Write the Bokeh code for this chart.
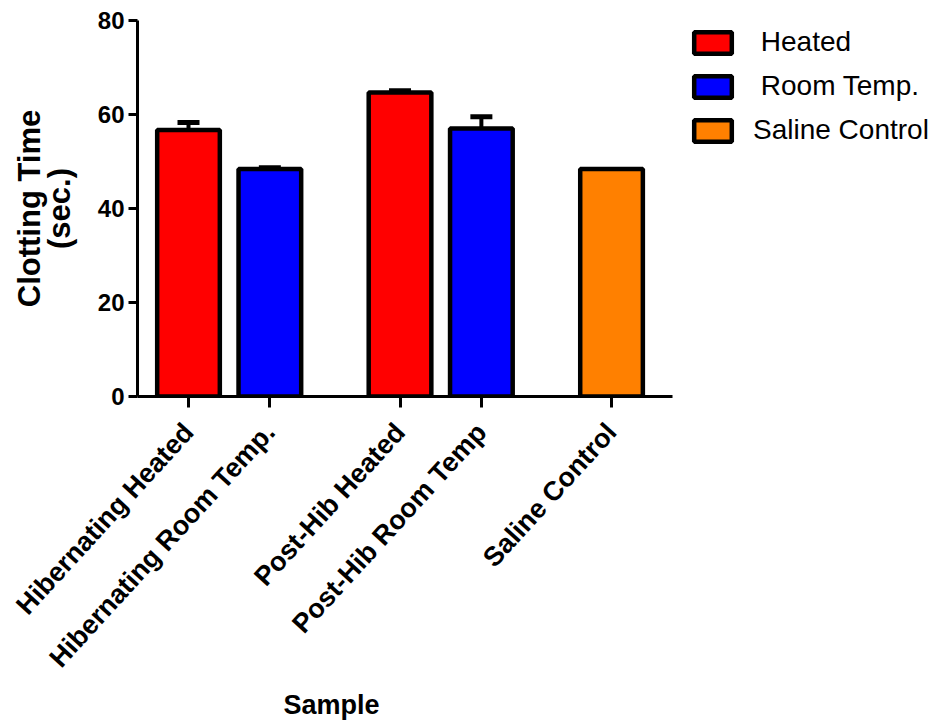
import math
from bokeh.plotting import figure
from bokeh.models import (ColumnDataSource, Whisker, TeeHead, Legend, LegendItem,
                          FixedTicker, Range1d, Title)
from bokeh.embed import file_html
from bokeh.resources import INLINE

# ---- data ----
samples = ["Hibernating Heated", "Hibernating Room Temp.", "Post-Hib Heated",
           "Post-Hib Room Temp", "Saline Control"]
groups = [0, 0, 1, 1, 2]
treatment = ["Heated", "Room Temp.", "Heated", "Room Temp.", "Saline Control"]
means = [56.7, 48.4, 64.7, 57.0, 48.4]
errors = [1.6, 0.25, 0.35, 2.5, 0.0]
y_ticks = [0, 20, 40, 60, 80]
legend_names = ["Heated", "Room Temp.", "Saline Control"]
legend_texts = [" Heated", " Room Temp.", "Saline Control"]
palette = {"Heated": "#FF0000", "Room Temp.": "#0000FF", "Saline Control": "#FF8000"}

# ---- positions (gap between groups) ----
positions = []
xpos = 1.0
for i, g in enumerate(groups):
    if i > 0:
        xpos += 1.0 + (0.6 if g != groups[i - 1] else 0.0)
    positions.append(round(xpos, 2))

FONT = "Liberation Sans"

p = figure(width=941, height=721, output_backend="svg", toolbar_location=None,
           x_range=Range1d(0.373, 10.256), y_range=Range1d(0, 80),
           min_border_left=137, min_border_right=0, min_border_top=20,
           min_border_bottom=322)
p.outline_line_color = None
p.xgrid.visible = False
p.ygrid.visible = False
p.background_fill_color = "white"

renderers = {}
for name in legend_names:
    idx = [i for i, t in enumerate(treatment) if t == name]
    src = ColumnDataSource(dict(x=[positions[i] for i in idx], top=[means[i] for i in idx]))
    r = p.vbar(x="x", top="top", bottom=0, width=0.77, source=src,
               fill_color=palette[name], line_color="black", line_width=4.5)
    renderers[name] = r

eidx = [i for i in range(len(means)) if errors[i] > 0]
esrc = ColumnDataSource(dict(
    x=[positions[i] for i in eidx],
    upper=[means[i] + errors[i] for i in eidx],
    lower=[means[i] - errors[i] for i in eidx]))
wh = Whisker(base="x", upper="upper", lower="lower", source=esrc,
             line_width=4, line_color="black",
             upper_head=TeeHead(size=22, line_width=5, line_color="black"),
             lower_head=TeeHead(size=22, line_width=5, line_color="black"))
p.add_layout(wh)

# axes
for ax in (p.xaxis[0], p.yaxis[0]):
    ax.axis_line_width = 3
    ax.major_tick_line_width = 3
    ax.major_tick_in = 0
    ax.minor_tick_line_color = None
    ax.major_label_text_font = FONT
    ax.major_label_text_font_style = "bold"
    ax.major_label_text_color = "black"
    ax.axis_label_text_font = FONT
    ax.axis_label_text_font_style = "bold"
    ax.axis_label_text_color = "black"

p.yaxis.ticker = FixedTicker(ticks=y_ticks)
p.yaxis.major_tick_out = 9
p.yaxis.major_label_text_font_size = "24px"
p.yaxis.major_label_standoff = 4
p.yaxis.axis_label = "Clotting Time\n(sec.)"
p.yaxis.axis_label_text_font_size = "31px"
p.yaxis.axis_label_text_line_height = 0.85
p.yaxis.axis_label_standoff = 18

p.xaxis.ticker = FixedTicker(ticks=positions)
p.xaxis.bounds = (0.373, 6.95)
p.xaxis.major_label_overrides = {pos: s for pos, s in zip(positions, samples)}
p.xaxis.major_tick_out = 11
p.xaxis.major_label_text_font_size = "27px"
p.xaxis.major_label_orientation = 0.83
p.xaxis.major_label_standoff = 20

p.add_layout(Title(text="Sample", align="left", offset=146, standoff=3,
                   text_font=FONT, text_font_style="bold", text_font_size="27px",
                   text_color="black"), "below")

items = [LegendItem(label=t, renderers=[renderers[n]]) for n, t in zip(legend_names, legend_texts)]
legend = Legend(items=items, location=(552, 250), orientation="vertical",
                glyph_width=47, glyph_height=27, label_standoff=17,
                label_text_font=FONT, label_text_font_size="28px",
                label_text_color="black", spacing=12, padding=5, margin=0,
                border_line_color=None, background_fill_alpha=0)
p.add_layout(legend, "center")

open("out.html", "w").write(file_html(p, INLINE))
